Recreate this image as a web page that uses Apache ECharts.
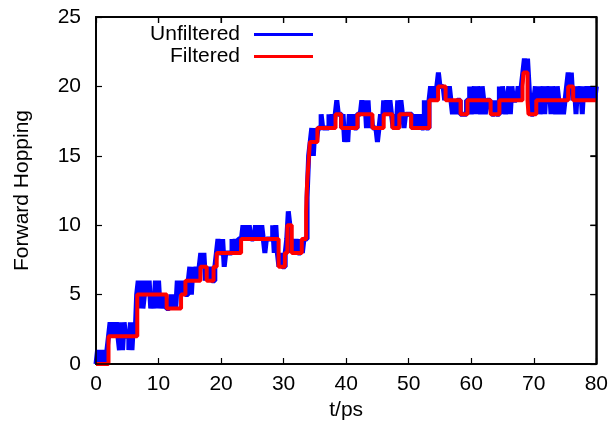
<!DOCTYPE html>
<html>
<head>
<meta charset="utf-8">
<script src="https://cdn.jsdelivr.net/npm/echarts@6/dist/echarts.min.js"></script>
<style>
  html, body { margin: 0; padding: 0; background: #fff; }
  #chart { width: 611px; height: 430px; }
</style>
</head>
<body>
<div id="chart"></div>
<script>
// unfiltered trace, sampled every 0.25 ps, one array per 20 ps
const sampleStep = 0.25
const unfiltered0 = [
  0,1,0,1, 0,1,0,1, 2,3,2,3, 2,3,2,1, 3,1,3,2,
  2,1,3,1, 3,2,5,6, 4,6,4,5, 6,5,6,4, 5,4,6,4,
  6,4,5,4, 5,4,4,4, 5,4,5,4, 6,5,6,5, 6,5,5,6,
  7,5,7,6, 7,6,7,8, 7,8,6,7, 6,7,6,6, 7,8,9,8
]
const unfiltered20 = [
  8,9,7,8, 8,8,8,9, 8,9,8,9, 9,9,10,9, 10,9,10,9,
  9,9,10,9, 10,9,10,9, 8,9,9,9, 9,10,8,10, 8,7,8,7,
  7,8,9,11, 10,8,9,8, 9,8,8,9, 8,9,9,12, 15,16,17,15,
  17,16,17,17, 18,17,17,17, 17,18,17,18, 17,18,19,18, 18,17,18,16
]
const unfiltered40 = [
  17,16,18,17, 18,17,17,18, 18,18,19,18, 19,17,19,17, 18,17,17,17,
  16,17,18,17, 19,18,19,18, 19,18,17,18, 17,19,18,19, 18,17,18,18,
  18,18,17,18, 17,18,17,18, 17,17,19,17, 17,19,20,19, 20,19,20,21,
  20,20,20,19, 20,19,20,19, 18,19,18,19, 19,18,18,18, 18,19,19,20
]
const unfiltered60 = [
  18,19,20,18, 20,19,18,20, 19,18,19,19, 19,18,18,19, 18,18,20,18,
  20,19,18,19, 20,18,20,19, 19,19,20,19, 20,21,22,21, 22,20,18,18,
  19,20,18,20, 18,19,20,18, 20,19,20,18, 20,19,18,20, 19,18,19,18,
  19,20,21,20, 21,19,20,18, 20,19,20,18, 20,19,20,19, 20,19,20,19,
  20
]

// filtered trace: value holds from each time until the next
const filteredT = [0, 2.0, 6.6, 11.3, 13.6, 14.3, 16.7, 17.7, 18.8, 19.3,
  23.2, 29.2, 30.2, 30.6, 31.3, 32.9, 33.6, 33.75, 33.9, 34.05,
  34.2, 35.4, 38.3, 39.2, 41.8, 44.2, 46.0, 47.4, 48.5, 50.4,
  53.3, 54.7, 55.9, 58.3, 59.4, 63.1, 64.5, 68.2, 68.35, 69.0,
  69.15, 70.4, 75.5, 76.3, 80]
const filteredV = [0, 2, 5, 4, 5, 6, 7, 6, 7, 8,
  9, 7, 8, 10, 8, 9, 11, 13, 14, 15,
  16, 17, 18, 17, 18, 17, 18, 17, 18, 17,
  19, 20, 19, 18, 19, 18, 19, 20, 21, 19,
  18, 19, 20, 19, 19]

// tick values, also used to mirror the ticks on the top and right edges
const xTicks = [0, 10, 20, 30, 40, 50, 60, 70, 80]
const yTicks = [0, 5, 10, 15, 20, 25]

const unfiltered = unfiltered0.concat(unfiltered20, unfiltered40, unfiltered60)
const unfilteredData = unfiltered.map((v, i) => [i * sampleStep, v])
const filteredData = filteredT.map((t, i) => [t, filteredV[i]])

const font = "'Liberation Sans', Arial, sans-serif"
const frame = () => ({ show: true, onZero: false, lineStyle: { color: '#000', width: 1.5 } })
const ticks = () => ({ show: true, inside: true, length: 6, lineStyle: { color: '#000', width: 1.2 } })
const xMin = xTicks[0], xMax = xTicks[xTicks.length - 1]
const yMin = yTicks[0], yMax = yTicks[yTicks.length - 1]

const chart = echarts.init(document.getElementById('chart'))
chart.setOption({
  animation: false,
  backgroundColor: '#fff',
  textStyle: { fontFamily: font },
  grid: { left: 96, right: 14, top: 17, bottom: 66, show: true, borderColor: '#000', borderWidth: 1.5 },
  legend: {
    orient: 'vertical',
    align: 'right',
    right: 293,
    top: 19,
    itemWidth: 59,
    itemHeight: 3,
    itemGap: 1,
    icon: 'rect',
    textStyle: { fontSize: 21, color: '#000', fontFamily: font, padding: [0, 9, 0, 0] },
    data: ['Unfiltered', 'Filtered']
  },
  xAxis: [
    {
      type: 'value', min: xMin, max: xMax, interval: 10, position: 'bottom',
      name: 't/ps', nameLocation: 'middle', nameGap: 35,
      nameTextStyle: { fontSize: 21, color: '#000', fontFamily: font },
      axisLine: frame(), axisTick: ticks(), splitLine: { show: false },
      axisLabel: { fontSize: 21, color: '#000', margin: 10, fontFamily: font }
    },
    {
      type: 'value', min: xMin, max: xMax, interval: 10, position: 'top',
      axisLine: frame(), axisTick: ticks(), splitLine: { show: false },
      axisLabel: { show: false }
    }
  ],
  yAxis: [
    {
      type: 'value', min: yMin, max: yMax, interval: 5, position: 'left',
      name: 'Forward Hopping', nameLocation: 'middle', nameGap: 63,
      nameTextStyle: { fontSize: 21, color: '#000', fontFamily: font },
      axisLine: frame(), axisTick: ticks(), splitLine: { show: false },
      axisLabel: { fontSize: 21, color: '#000', margin: 15, fontFamily: font }
    },
    {
      type: 'value', min: yMin, max: yMax, interval: 5, position: 'right',
      axisLine: frame(), axisTick: ticks(), splitLine: { show: false },
      axisLabel: { show: false }
    }
  ],
  series: [
    {
      name: 'Unfiltered',
      type: 'line',
      step: 'end',
      showSymbol: false,
      color: '#0000ff',
      lineStyle: { color: '#0000ff', width: 5 },
      data: unfilteredData
    },
    {
      name: 'Filtered',
      type: 'line',
      step: 'end',
      showSymbol: false,
      color: '#ff0000',
      lineStyle: { color: '#ff0000', width: 4 },
      data: filteredData
    }
  ]
})

// the mirrored top/right edges do not show up in this build, so draw the
// box and its ticks from the axis scales
const toPx = (x, y) => chart.convertToPixel({ xAxisIndex: 0, yAxisIndex: 0 }, [x, y])
const lo = toPx(xMin, yMin)
const hi = toPx(xMax, yMax)
const edge = { stroke: '#000', lineWidth: 1.5 }
const boxParts = [
  { type: 'rect', silent: true, z: 100,
    shape: { x: lo[0], y: hi[1], width: hi[0] - lo[0], height: lo[1] - hi[1] },
    style: { fill: 'none', stroke: '#000', lineWidth: 1.5 } }
]
xTicks.slice(1, -1).forEach((t) => {
  const px = toPx(t, yMax)[0]
  boxParts.push({ type: 'line', silent: true, z: 100,
    shape: { x1: px, y1: hi[1], x2: px, y2: hi[1] + 6 }, style: { stroke: '#000', lineWidth: 1.2 } })
})
yTicks.slice(1, -1).forEach((v) => {
  const py = toPx(xMax, v)[1]
  boxParts.push({ type: 'line', silent: true, z: 100,
    shape: { x1: hi[0] - 6, y1: py, x2: hi[0], y2: py }, style: { stroke: '#000', lineWidth: 1.2 } })
})
chart.setOption({ graphic: boxParts })
</script>
</body>
</html>
